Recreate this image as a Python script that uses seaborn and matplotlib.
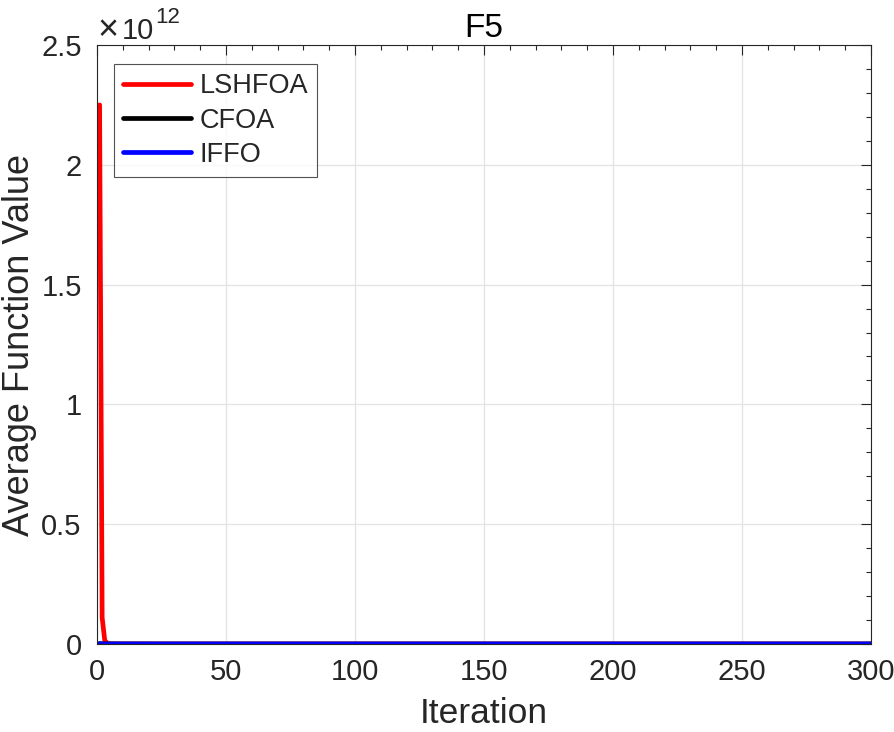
import matplotlib
matplotlib.use("Agg")
import matplotlib.pyplot as plt
import seaborn as sns
import pandas as pd
from matplotlib.ticker import MultipleLocator, FuncFormatter

# Curve values (iteration -> average function value)
iters_lshfoa = [1, 2, 3, 4, 5, 8, 20, 100, 300]
vals_lshfoa = [2.25e12, 1.1e11, 1.5e10, 3e9, 8e8, 1e8, 1e7, 1e6, 1e5]
iters_cfoa = [1, 2, 5, 20, 100, 300]
vals_cfoa = [2e9, 5e8, 1e8, 1e7, 1e6, 1e5]
iters_iffo = [1, 2, 5, 20, 100, 300]
vals_iffo = [1e9, 2e8, 5e7, 5e6, 5e5, 5e4]

labels = ["LSHFOA", "CFOA", "IFFO"]
colors = ["#ff0000", "#000000", "#0000ff"]

frames = []
for name, it, v in zip(labels, [iters_lshfoa, iters_cfoa, iters_iffo],
                       [vals_lshfoa, vals_cfoa, vals_iffo]):
    frames.append(pd.DataFrame({"Iteration": it, "Value": v, "Algorithm": name}))
df = pd.concat(frames, ignore_index=True)

sns.set_style("white")
plt.rcParams["font.family"] = ["Liberation Sans", "DejaVu Sans"]
plt.rcParams["mathtext.fontset"] = "custom"
plt.rcParams["mathtext.rm"] = "Liberation Sans"
plt.rcParams["mathtext.it"] = "Liberation Sans"

txt = "#262626"
fig = plt.figure(figsize=(8.95, 7.32), dpi=100)
ax = fig.add_axes([97 / 895, 1 - 644 / 732, 774 / 895, 599 / 732])

sns.lineplot(data=df, x="Iteration", y="Value", hue="Algorithm",
             hue_order=labels, palette=colors, linewidth=3.4, ax=ax,
             estimator=None, sort=False)

ax.set_xlim(0, 300)
ax.set_ylim(0, 2.5e12)
ax.xaxis.set_major_locator(MultipleLocator(50))
ax.xaxis.set_minor_locator(MultipleLocator(10))
ax.yaxis.set_major_locator(MultipleLocator(0.5e12))
ax.yaxis.set_minor_locator(MultipleLocator(0.1e12))
ax.yaxis.set_major_formatter(FuncFormatter(lambda v, p: f"{v / 1e12:g}"))

# MATLAB-style exponent label above the y axis
ax.text(0.0, 1.011, r"$\times$", transform=ax.transAxes, fontsize=26,
        color=txt, ha="left", va="baseline")
ax.text(0.032, 1.010, "10", transform=ax.transAxes, fontsize=21,
        color=txt, ha="left", va="baseline")
ax.text(0.075, 1.036, "12", transform=ax.transAxes, fontsize=16,
        color=txt, ha="left", va="baseline")

ax.grid(True, which="major", color="#e3e3e3", linewidth=0.9)
ax.set_axisbelow(True)
for s in ax.spines.values():
    s.set_visible(True)
    s.set_color(txt)
    s.set_linewidth(0.8)
ax.tick_params(which="both", direction="in", top=True, right=True,
               colors=txt, labelcolor=txt)
ax.tick_params(which="major", length=7, labelsize=21, width=0.8)
ax.tick_params(axis="y", which="major", pad=11)
ax.tick_params(axis="x", which="major", pad=10)
ax.tick_params(which="minor", length=3.5, width=0.8)

ax.set_xlabel("Iteration", fontsize=25.5, color=txt, labelpad=8)
ax.set_ylabel("Average Function Value", fontsize=26, color=txt, labelpad=3)
ax.set_title("F5", fontsize=24, color="#000000", pad=6)

leg = ax.legend(loc="upper left", fontsize=19.5, frameon=True, fancybox=False,
                edgecolor="#262626", handlelength=2.5, handletextpad=0.3,
                borderpad=0.35, labelspacing=0.3, borderaxespad=0,
                bbox_to_anchor=(17 / 774, 1 - 19 / 599))
leg.get_frame().set_linewidth(0.8)
for line in leg.get_lines():
    line.set_linewidth(3.4)

fig.savefig("out.png", dpi=100)
